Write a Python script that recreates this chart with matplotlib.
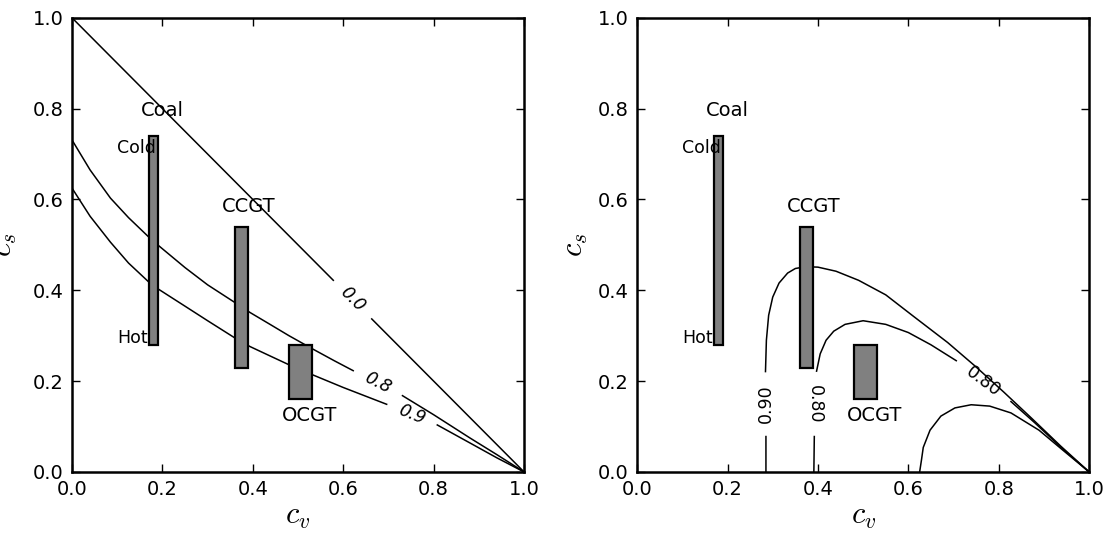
import numpy as np
import matplotlib
matplotlib.use("Agg")
import matplotlib.pyplot as plt
from matplotlib.patches import Rectangle

nan = np.nan

# plant boxes (range of c_v and c_s per technology)
plants = ["Coal", "CCGT", "OCGT"]
cv_lo = [0.17, 0.36, 0.48]
cv_hi = [0.19, 0.39, 0.53]
cs_lo = [0.28, 0.23, 0.16]
cs_hi = [0.74, 0.54, 0.28]

# left panel contour lines (nan = gap for label)
l00_cv = [0.0, 0.578, nan, 0.663, 1.0]
l00_cs = [1.0, 0.422, nan, 0.337, 0.0]
l08_cv = [0.0, 0.04, 0.085, 0.125, 0.169, 0.192, 0.25, 0.30, 0.362, 0.394,
          0.438, 0.48, 0.532, 0.58, 0.622, nan, 0.731, 0.80, 0.88, 0.94, 1.0]
l08_cs = [0.731, 0.665, 0.603, 0.56, 0.518, 0.498, 0.45, 0.412, 0.372, 0.351,
          0.325, 0.30, 0.271, 0.245, 0.223, nan, 0.168, 0.126, 0.075, 0.038, 0.0]
l09_cv = [0.0, 0.04, 0.085, 0.125, 0.169, 0.192, 0.25, 0.30, 0.362, 0.394,
          0.438, 0.48, 0.532, 0.60, 0.696, nan, 0.808, 0.88, 0.94, 1.0]
l09_cs = [0.625, 0.563, 0.506, 0.46, 0.419, 0.402, 0.365, 0.333, 0.294, 0.276,
          0.2555, 0.236, 0.214, 0.186, 0.149, nan, 0.1035, 0.064, 0.031, 0.0]
left_levels = ["0.0", "0.8", "0.9"]

# right panel contour lines
r09_cv = [0.285, 0.285, nan, 0.284, 0.286, 0.291, 0.30, 0.314, 0.333, 0.35,
          0.373, 0.40, 0.44, 0.49, 0.55, 0.611, 0.687, 0.749, 0.811, 0.873,
          0.937, 1.0]
r09_cs = [0.0, 0.078, nan, 0.221, 0.29, 0.345, 0.385, 0.416, 0.438, 0.448,
          0.452, 0.451, 0.442, 0.422, 0.39, 0.343, 0.285, 0.232, 0.176, 0.118,
          0.057, 0.0]
r08_cv = [0.391, 0.392, nan, 0.397, 0.405, 0.418, 0.435, 0.46, 0.50, 0.55,
          0.60, 0.65, 0.706, nan, 0.827, 0.88, 0.94, 1.0]
r08_cs = [0.0, 0.078, nan, 0.222, 0.26, 0.29, 0.31, 0.325, 0.333, 0.325,
          0.307, 0.28, 0.245, nan, 0.155, 0.108, 0.052, 0.0]
r07_cv = [0.625, 0.629, 0.633, 0.648, 0.672, 0.703, 0.739, 0.78, 0.827,
          0.889, 0.943, 1.0]
r07_cs = [0.0, 0.026, 0.054, 0.092, 0.123, 0.141, 0.148, 0.145, 0.13,
          0.092, 0.047, 0.0]
right_levels = ["0.90", "0.80", "0.80"]

plt.rcParams["font.family"] = "DejaVu Sans"
plt.rcParams["mathtext.fontset"] = "cm"

fig = plt.figure(figsize=(11.08, 5.4), dpi=100)
ax1 = fig.add_axes([0.065, 0.126, 0.408, 0.841])
ax2 = fig.add_axes([0.575, 0.126, 0.408, 0.841])


def setup(ax, ypad):
    ax.set_xlim(0, 1)
    ax.set_ylim(0, 1)
    ticks = np.arange(0, 1.01, 0.2)
    ax.set_xticks(ticks)
    ax.set_yticks(ticks)
    ax.set_xticklabels(["%.1f" % t for t in ticks])
    ax.set_yticklabels(["%.1f" % t for t in ticks])
    ax.tick_params(direction="in", top=True, right=True, length=6,
                   width=1, labelsize=14, pad=6)
    for s in ax.spines.values():
        s.set_linewidth(1.8)
    ax.set_xlabel("$c_v$", fontsize=22, labelpad=2)
    ax.set_ylabel("$c_s$", fontsize=22, labelpad=ypad)


def draw_plants(ax):
    for i in range(len(plants)):
        ax.add_patch(Rectangle((cv_lo[i], cs_lo[i]), cv_hi[i] - cv_lo[i],
                               cs_hi[i] - cs_lo[i], facecolor="0.5",
                               edgecolor="black", linewidth=1.6, zorder=3))
    ax.text(0.20, 0.795, "Coal", fontsize=14, ha="center", va="center")
    ax.text(0.39, 0.584, "CCGT", fontsize=14, ha="center", va="center")
    ax.text(0.525, 0.125, "OCGT", fontsize=14, ha="center", va="center")
    ax.text(0.10, 0.713, "Cold", fontsize=12.5, ha="left", va="center")
    ax.text(0.10, 0.294, "Hot", fontsize=12.5, ha="left", va="center")


# left panel
setup(ax1, 10)
for cv, cs in [(l00_cv, l00_cs), (l08_cv, l08_cs), (l09_cv, l09_cs)]:
    ax1.plot(cv, cs, color="black", linewidth=1.1)
draw_plants(ax1)
for lab, (x, y, rot) in zip(left_levels, [(0.62, 0.38, -45), (0.676, 0.197, -27),
                                          (0.752, 0.127, -22)]):
    ax1.text(x, y, lab, fontsize=12.5, style="italic", rotation=rot,
             ha="center", va="center", rotation_mode="anchor")

# right panel
setup(ax2, 6)
for cv, cs in [(r09_cv, r09_cs), (r08_cv, r08_cs), (r07_cv, r07_cs)]:
    ax2.plot(cv, cs, color="black", linewidth=1.1)
draw_plants(ax2)
for lab, (x, y, rot) in zip(right_levels, [(0.285, 0.15, 90), (0.393, 0.15, -90),
                                           (0.766, 0.199, -37)]):
    ax2.text(x, y, lab, fontsize=12.5, rotation=rot,
             ha="center", va="center", rotation_mode="anchor")

fig.savefig("out.png", dpi=100, facecolor="white")
